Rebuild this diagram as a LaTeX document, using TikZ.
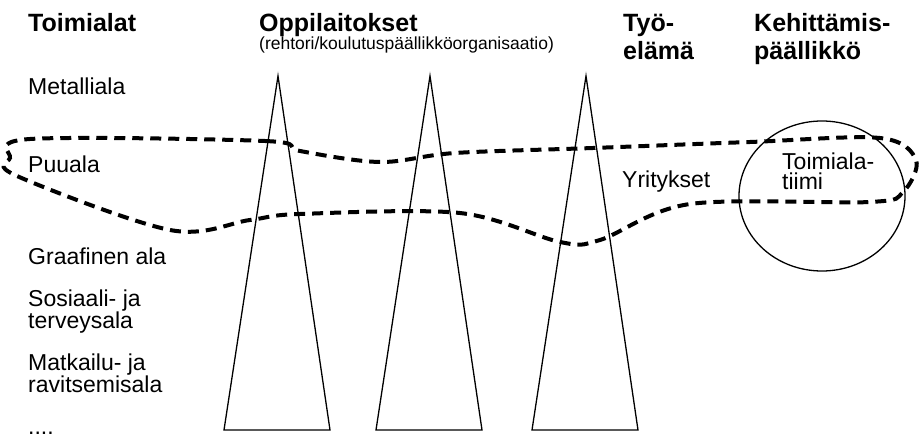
\documentclass[tikz,border=0pt]{standalone}
\usepackage{fontspec}
\setmainfont{Liberation Sans}
\usetikzlibrary{positioning,shapes.geometric}

\begin{document}
\begin{tikzpicture}[x=1pt, y=-1pt, inner sep=0pt,
  head/.style={font=\fontsize{25}{28}\selectfont\bfseries, align=left, anchor=base west},
  field/.style={font=\fontsize{23}{20}\selectfont, align=left, anchor=base west},
  note/.style={font=\fontsize{17.5}{20}\selectfont, anchor=base west},
  cone/.style={line width=1.3pt},
  team/.style={line width=4pt, dash pattern=on 11pt off 7pt}]
\useasboundingbox (0,0) rectangle (921,435);

% headings (multi-line nodes sit on their last line)
\node[head] (toimialat) at (28,32) {Toimialat};
\node[head] (oppilaitokset) at (259,32) {Oppilaitokset};
\node[note] (organisaatio) at (259,50) {(rehtori/koulutuspäällikköorganisaatio)};
\node[head] (tyoelama) at (623,60) {Työ-\\elämä};
\node[head] (kehittamis) at (754,60) {Kehittämis-\\päällikkö};

% fields
\node[field] (metalli) at (28,95) {Metalliala};
\node[field] (puu) at (28,173) {Puuala};
\node[field] (graafinen) at (28,265) {Graafinen ala};
\node[field] (sosiaali) at (28,329) {Sosiaali- ja\\terveysala};
\node[field] (matkailu) at (28,393) {Matkailu- ja\\ravitsemisala};
\node[field] (muut) at (28,434) {....};

% schools
\foreach \x/\n in {278/a,430/b,586/c} {
  \coordinate (top\n) at (\x,76);
  \draw[cone] (top\n) -- (\x-54,430) -- (\x+52,430) -- cycle;
}

\node[field] (yritykset) at (622,188) {Yritykset};
\node[draw, cone, ellipse, minimum width=166pt, minimum height=150pt] (tiimi) at (822,196) {};
\node[field] (tiimiteksti) at (782,190) {Toimiala-\\tiimi};

% team loop
\draw[team] plot[smooth cycle, tension=0.55] coordinates {(30,139) (265,141) (300,151) (380,162) (455,153)
  (593,148) (750,142) (880,138) (916,160) (903,192) (870,202) (690,204) (600,240) (560,242)
  (460,213) (300,214) (250,220) (170,230) (17,176) (10,158)};
\end{tikzpicture}
\end{document}
